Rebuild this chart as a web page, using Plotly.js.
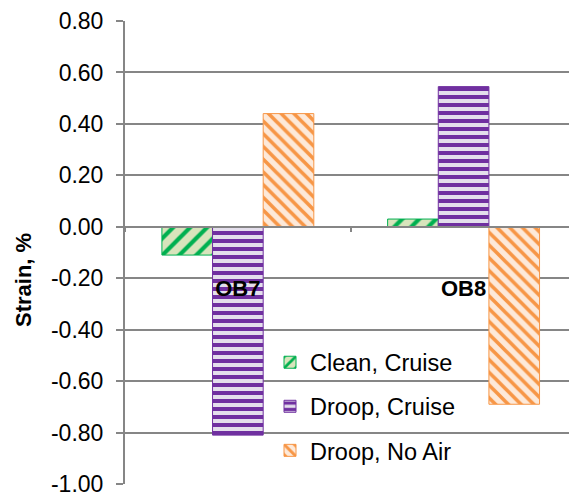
<!DOCTYPE html>
<html>
<head>
<meta charset="utf-8">
<script src="https://cdn.plot.ly/plotly-3.0.1.min.js"></script>
<style>html,body{margin:0;padding:0;background:#fff;}#chart{width:569px;height:498px;}</style>
</head>
<body>
<div id="chart"></div>
<script>
var categories = ["OB7", "OB8"];
var seriesNames = ["Clean, Cruise", "Droop, Cruise", "Droop, No Air"];
var cleanCruise = [-0.11, 0.03];
var droopCruise = [-0.81, 0.545];
var droopNoAir = [0.44, -0.69];
var tickVals = [-1.0, -0.8, -0.6, -0.4, -0.2, 0.0, 0.2, 0.4, 0.6, 0.8];
var tickText = ["-1.00", "-0.80", "-0.60", "-0.40", "-0.20", "0.00", "0.20", "0.40", "0.60", "0.80"];
var yTitle = "Strain, %";

var FONT = "Liberation Sans, Arial, sans-serif";
var styles = [
  {fg: "#00B050", bg: "#D8E4BC", shape: "/", size: 12, solidity: 0.35},
  {fg: "#7030A0", bg: "#E4DFEC", shape: "-", size: 8, solidity: 0.5},
  {fg: "#F79646", bg: "#FDE9D9", shape: "\\", size: 9, solidity: 0.4}
];
var values = [cleanCruise, droopCruise, droopNoAir];

var traces = values.map(function (v, i) {
  var s = styles[i];
  return {
    type: "bar",
    name: seriesNames[i],
    x: categories,
    y: v,
    legendgroup: "g" + i,
    marker: {
      color: s.bg,
      line: {color: s.fg, width: 1},
      pattern: {shape: s.shape, fgcolor: s.fg, bgcolor: s.bg, size: s.size, solidity: s.solidity, fillmode: "replace"}
    }
  };
});

var layout = {
  width: 569,
  height: 498,
  margin: {l: 125, r: 0, t: 21, b: 14, pad: 0},
  paper_bgcolor: "#fff",
  plot_bgcolor: "#fff",
  font: {family: FONT, size: 22, color: "#000"},
  barmode: "group",
  bargap: 0.327,
  bargroupgap: 0,
  showlegend: true,
  legend: {
    x: 0.3266, y: 0.31, xanchor: "left", yanchor: "top",
    bgcolor: "rgba(0,0,0,0)",
    font: {family: FONT, size: 23.5, color: "#000"},
    traceorder: "grouped",
    tracegroupgap: 10.5
  },
  xaxis: {
    type: "category",
    range: [-0.5, 1.467],
    anchor: "free",
    position: 1 / 1.8,
    showline: true,
    linecolor: "#868686",
    linewidth: 2,
    showgrid: false,
    zeroline: false,
    ticks: "outside",
    tickson: "boundaries",
    ticklen: 4,
    tickwidth: 2,
    tickcolor: "#868686",
    ticklabelstandoff: 42,
    tickfont: {family: FONT, size: 22, color: "#000", weight: "bold"}
  },
  yaxis: {
    range: [-1.0, 0.8],
    tickvals: tickVals,
    ticktext: tickText,
    showline: true,
    linecolor: "#868686",
    linewidth: 2,
    showgrid: true,
    gridcolor: "#868686",
    gridwidth: 2,
    zeroline: false,
    ticks: "outside",
    ticklen: 7,
    tickwidth: 2,
    tickcolor: "#868686",
    ticklabelstandoff: 8,
    tickfont: {family: FONT, size: 23, color: "#000"}
  },
  annotations: [{
    text: yTitle,
    xref: "paper", yref: "paper",
    x: 0, y: (484 - 280) / 463,
    xanchor: "center", yanchor: "middle",
    xshift: -102,
    textangle: -90,
    showarrow: false,
    font: {family: FONT, size: 22, color: "#000", weight: "bold"}
  }]
};

Plotly.newPlot("chart", traces, layout, {staticPlot: true, displayModeBar: false});
</script>
</body>
</html>
